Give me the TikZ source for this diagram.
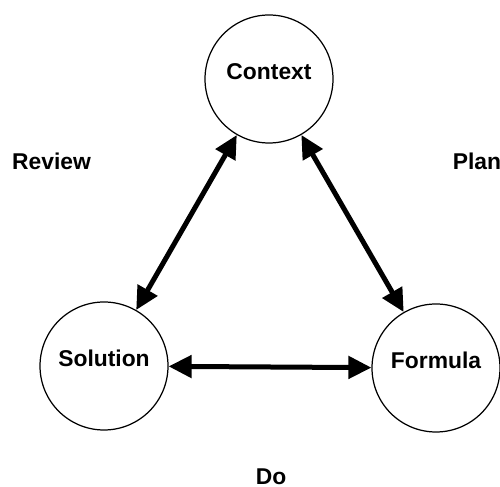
\documentclass[tikz,border=0pt]{standalone}
\usepackage{fontspec}
\setmainfont{Liberation Sans}
\usetikzlibrary{arrows.meta}
\begin{document}
\begin{tikzpicture}[every node/.style={font=\fontsize{13}{15}\selectfont\bfseries},
    stage/.style={draw,circle,line width=0.7pt,minimum size=2.56cm,inner sep=0pt,text depth=0.3cm},
    link/.style={<->,>={Triangle[length=4.6mm,width=4.4mm]},line width=0.1cm}]
  % page frame
  \useasboundingbox (0,0) rectangle (10,9.74);

  %% the three circles
  \node[stage] (context)  at (5.38,8.16) {Context};
  \node[stage] (solution) at (2.08,2.42) {Solution};
  \node[stage] (formula)  at (8.72,2.38) {Formula};

  %% the phase names
  \node (review) at (1.03,6.51) {Review};
  \node (plan)   at (9.54,6.52) {Plan};
  \node (do)     at (5.42,0.21) {Do};

  %% double arrows between the circles
  \foreach \a/\b in {context/solution,context/formula,solution/formula}
    \draw[link] (\a) -- (\b);
\end{tikzpicture}
\end{document}
